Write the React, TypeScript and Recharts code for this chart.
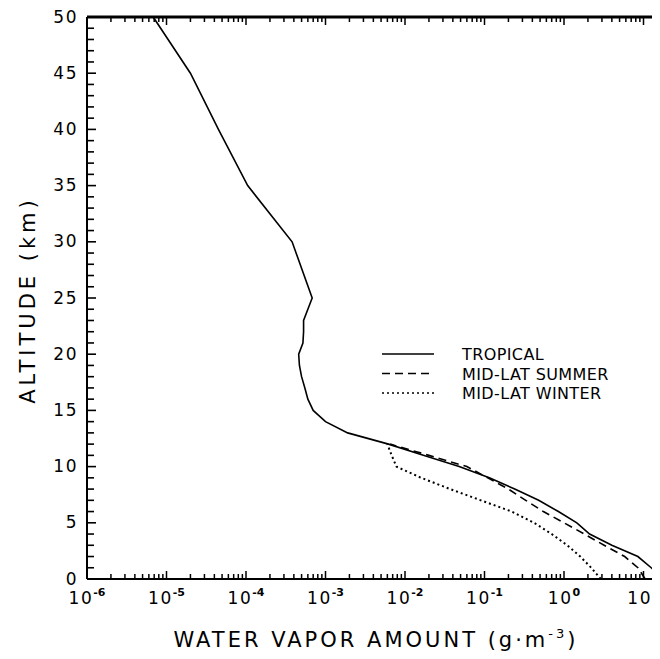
import { LineChart, Line, XAxis, YAxis } from "recharts"

// altitude (km) and water vapour density (g/m3)
const tropicalAlt = [0, 1, 2, 3, 4, 5, 6, 7, 8, 9, 10, 11, 12, 13, 14, 15, 16, 17, 18, 19, 20, 21, 22, 23, 24, 25, 30, 35, 40, 45, 50]
const tropicalVapor = [
  18, 12.5, 8.5, 4.0, 2.1, 1.45, 0.85, 0.48, 0.24, 0.115, 0.048, 0.017, 0.0062, 0.0019, 0.001, 0.0007,
  0.0006, 0.00055, 0.0005, 0.00047, 0.00046, 0.00052, 0.00053, 0.00053, 0.0006, 0.00068,
  0.00038, 0.000105, 0.000045, 0.00002, 0.0000068,
]
const summerAlt = [0, 1, 2, 3, 4, 5, 6, 7, 8, 9, 10, 11, 12]
const summerVapor = [10.5, 8.5, 5.8, 3.2, 1.8, 1.0, 0.55, 0.33, 0.2, 0.11, 0.06, 0.02, 0.0065]
const winterAlt = [0, 1, 2, 3, 4, 5, 6, 7, 8, 9, 10, 11, 12]
const winterVapor = [2.9, 2.2, 1.6, 1.1, 0.7, 0.42, 0.22, 0.09, 0.037, 0.016, 0.0078, 0.0068, 0.006]

const decades = [-6, -5, -4, -3, -2, -1, 0, 1]
const altLabels = [0, 5, 10, 15, 20, 25, 30, 35, 40, 45, 50]
const legendNames = ["TROPICAL", "MID-LAT SUMMER", "MID-LAT WINTER"]

const X_MAX = 16.6
const FONT = "'DejaVu Sans', sans-serif"

const tropical = tropicalAlt.map((a, i) => ({ alt: a, v: tropicalVapor[i] }))
const summer = summerAlt.map((a, i) => ({ alt: a, v: summerVapor[i] }))
const winter = winterAlt.map((a, i) => ({ alt: a, v: winterVapor[i] }))

const majorX = decades.map((d) => 10 ** d)
const xTicks = decades
  .flatMap((d) => [1, 2, 3, 4, 5, 6, 7, 8, 9].map((k) => k * 10 ** d))
  .filter((v) => v <= X_MAX)
const yTicks = Array.from({ length: 51 }, (_, i) => i)

function BottomTick({ x, y, payload }: any) {
  const v = payload.value
  const major = majorX.includes(v)
  const exp = Math.round(Math.log10(v))
  return (
    <g>
      <line x1={x} x2={x} y1={y} y2={y - (major ? 8 : 5)} stroke="#000" strokeWidth={1.5} />
      {major && (
        <text x={x} y={y + 25} textAnchor="middle" fontFamily={FONT} fontSize={17} fill="#000">
          <tspan letterSpacing={1.5}>10</tspan>
          <tspan dy={-8} dx={0} fontSize={11} fontWeight="bold">{exp}</tspan>
        </text>
      )}
    </g>
  )
}

function TopTick({ x, y, payload }: any) {
  const major = majorX.includes(payload.value)
  return <line x1={x} x2={x} y1={y} y2={y + (major ? 8 : 5)} stroke="#000" strokeWidth={1.5} />
}

function LeftTick({ x, y, payload }: any) {
  const v = payload.value
  const major = altLabels.includes(v)
  return (
    <g>
      <line x1={x} x2={x + (major ? 9 : 7)} y1={y} y2={y} stroke="#000" strokeWidth={1.6} />
      {major && (
        <text x={x - 9} y={y + 5.5} textAnchor="end" fontFamily={FONT} fontSize={17} letterSpacing={1.5} fill="#000">
          {v}
        </text>
      )}
    </g>
  )
}

function RightTick({ x, y }: any) {
  return <line x1={x} x2={x - 4} y1={y} y2={y} stroke="#000" strokeWidth={1.8} />
}

function XTitle({ viewBox }: any) {
  return (
    <text x={viewBox.x + viewBox.width / 2 + 2} y={viewBox.y + 68} textAnchor="middle" fontFamily={FONT} fontSize={21} letterSpacing={3} fill="#000">
      WATER VAPOR AMOUNT (g·m
      <tspan dy={-9} fontSize={13}>-3</tspan>
      <tspan dy={9}>)</tspan>
    </text>
  )
}

function YTitle({ viewBox }: any) {
  const cx = 27
  const cy = viewBox.y + viewBox.height / 2 + 2
  return (
    <text x={cx} y={cy} transform={`rotate(-90 ${cx} ${cy})`} textAnchor="middle" fontFamily={FONT} fontSize={21} letterSpacing={4} fill="#000">
      ALTITUDE (km)
    </text>
  )
}

function LegendBox() {
  const styles = [undefined, "8 5", "2 3"]
  return (
    <svg width={230} height={60} style={{ position: "absolute", left: 370, top: 336 }}>
      {legendNames.map((name, i) => (
        <g key={name}>
          <line x1={4} x2={56} y1={10 + i * 19.5} y2={10 + i * 19.5} stroke="#000" strokeWidth={1.6} strokeDasharray={styles[i]} />
          <text x={84} y={16 + i * 19.5} fontFamily={FONT} fontSize={16} letterSpacing={0.4} fill="#000">
            {name}
          </text>
        </g>
      ))}
    </svg>
  )
}

export default function App() {
  return (
    <div style={{ width: 652, height: 651, overflow: "hidden", position: "relative", background: "#fff" }}>
      <LineChart width={660} height={651} margin={{ top: 8, right: 0, bottom: 0, left: 0 }}>
        <XAxis
          xAxisId="b"
          dataKey="v"
          type="number"
          scale="log"
          domain={[1e-6, X_MAX]}
          allowDataOverflow
          ticks={xTicks}
          interval={0}
          tick={<BottomTick />}
          tickLine={false}
          tickSize={0}
          tickMargin={0}
          height={80}
          stroke="#000"
          axisLine={{ stroke: "#000", strokeWidth: 2 }}
          label={<XTitle />}
        />
        <XAxis
          xAxisId="t"
          orientation="top"
          dataKey="v"
          type="number"
          scale="log"
          domain={[1e-6, X_MAX]}
          allowDataOverflow
          ticks={xTicks}
          interval={0}
          tick={<TopTick />}
          tickLine={false}
          tickSize={0}
          tickMargin={0}
          height={1}
          stroke="#000"
          axisLine={{ stroke: "#000", strokeWidth: 3 }}
        />
        <YAxis
          yAxisId="l"
          dataKey="alt"
          type="number"
          domain={[0, 50]}
          ticks={yTicks}
          interval={0}
          tick={<LeftTick />}
          tickLine={false}
          tickSize={0}
          tickMargin={0}
          width={79}
          stroke="#000"
          axisLine={{ stroke: "#000", strokeWidth: 2 }}
          label={<YTitle />}
        />
        <YAxis
          yAxisId="r"
          orientation="right"
          type="number"
          domain={[0, 50]}
          ticks={altLabels}
          interval={0}
          tick={<RightTick />}
          tickLine={false}
          tickSize={0}
          tickMargin={0}
          width={7}
          axisLine={false}
        />
        <Line xAxisId="b" yAxisId="l" data={winter} dataKey="alt" stroke="#000" strokeWidth={2} strokeDasharray="2 3" dot={false} isAnimationActive={false} />
        <Line xAxisId="b" yAxisId="l" data={summer} dataKey="alt" stroke="#000" strokeWidth={1.6} strokeDasharray="8 5" dot={false} isAnimationActive={false} />
        <Line xAxisId="b" yAxisId="l" data={tropical} dataKey="alt" stroke="#000" strokeWidth={1.6} dot={false} isAnimationActive={false} />
      </LineChart>
      <LegendBox />
    </div>
  )
}
